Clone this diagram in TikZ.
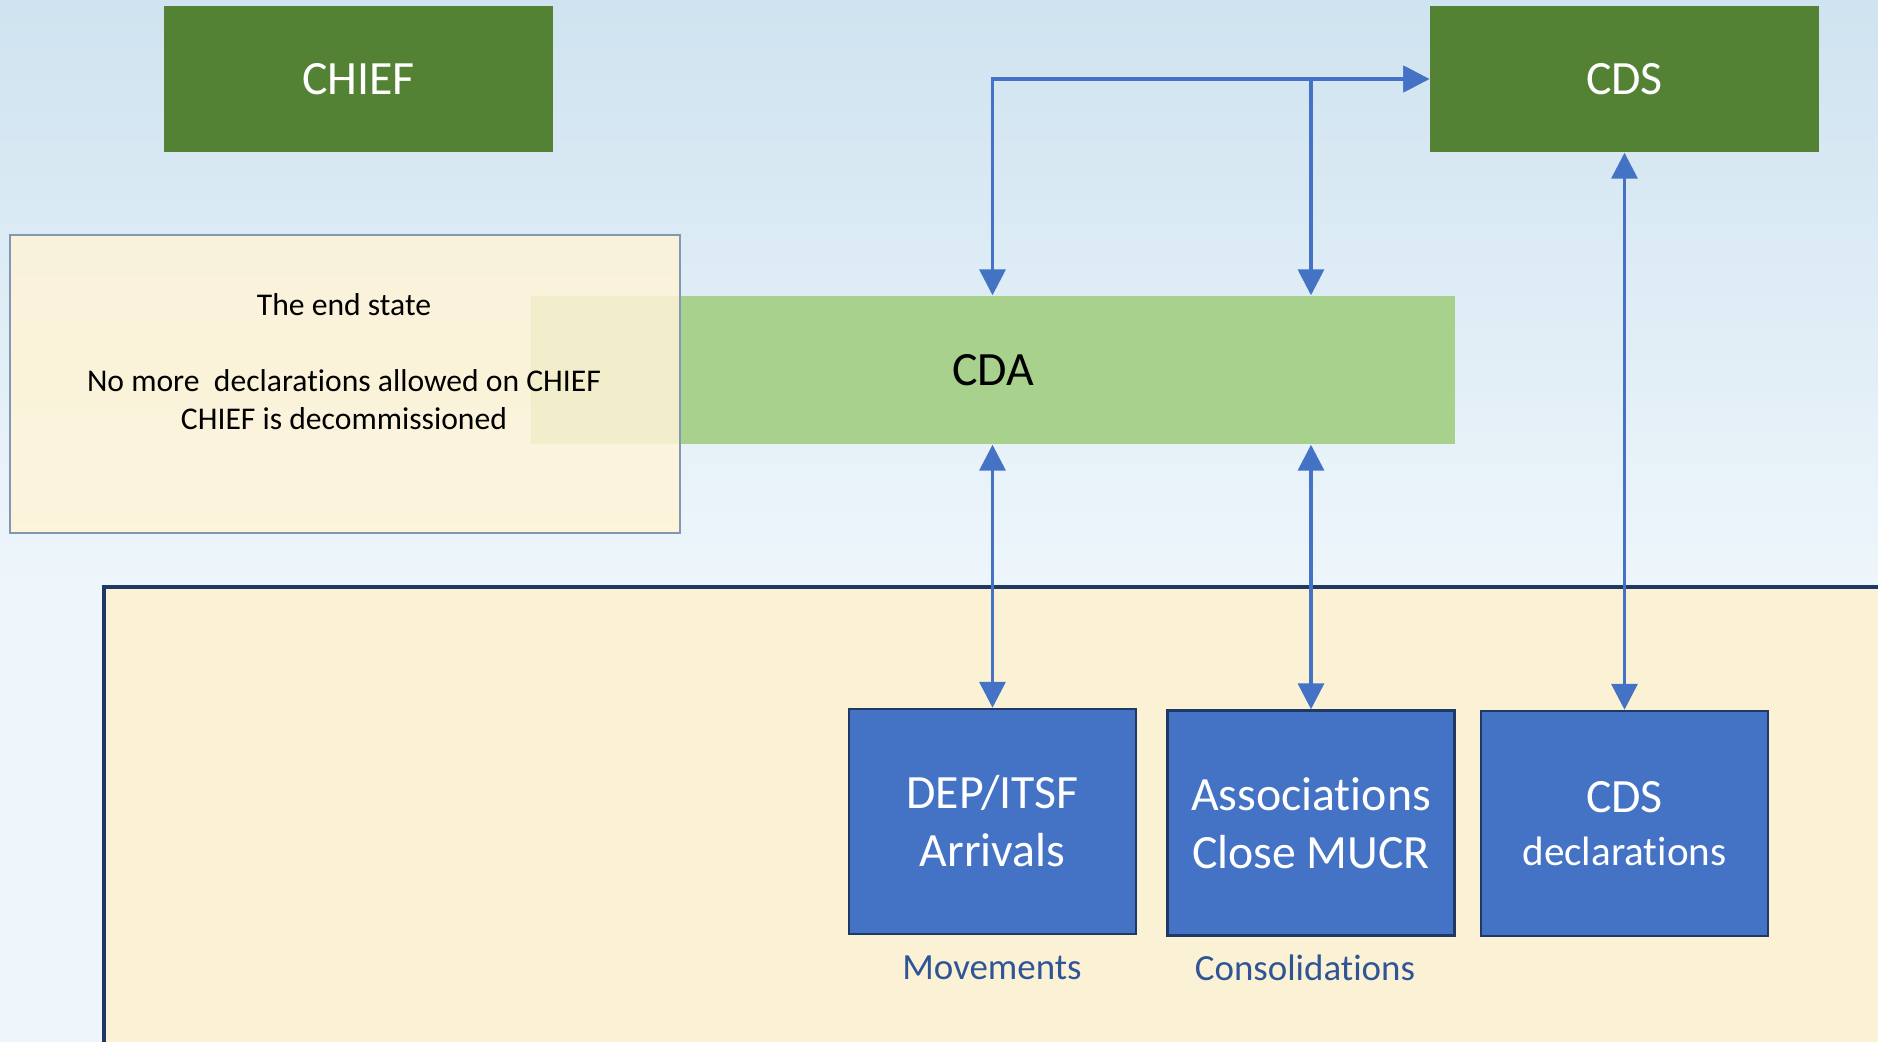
\documentclass[tikz,border=0pt]{standalone}
\usepackage{fontspec}
\setmainfont{Carlito}[Ligatures=NoCommon]
\usepackage{xcolor}
\usepackage{tikz}
\usetikzlibrary{arrows.meta}
\usetikzlibrary{positioning}
\definecolor{darkgreen}{HTML}{548235}
\definecolor{lightgreen}{HTML}{A9D18E}
\definecolor{boxblue}{HTML}{4472C4}
\definecolor{navy}{HTML}{1F3864}
\definecolor{panelcream}{HTML}{FBF2D6}
\definecolor{notecream}{HTML}{FFF4D6}
\definecolor{noteedge}{HTML}{8497B0}
\definecolor{labelblue}{HTML}{2F5597}
\definecolor{bgtop}{HTML}{CFE3F0}
\definecolor{bgbottom}{HTML}{EEF6FB}
\tikzstyle{sysnode}=[fill=darkgreen, text=white, minimum width=3.89cm, minimum height=1.46cm, inner sep=0pt, font=\fontsize{13.6}{16}\selectfont]
\tikzstyle{cdanode}=[fill=lightgreen, text=black, minimum width=9.24cm, minimum height=1.48cm, inner sep=0pt, font=\fontsize{13.6}{16}\selectfont]
\tikzstyle{notenode}=[draw=noteedge, line width=0.45pt, fill=notecream, fill opacity=0.85, minimum width=6.70cm, minimum height=2.98cm]
\tikzstyle{notetext}=[text=black, align=center, font=\fontsize{9}{10.8}\selectfont]
\tikzstyle{srcnode}=[draw=navy, line width=0.7pt, fill=boxblue, text=white, minimum width=2.87cm, minimum height=2.25cm, inner sep=0pt, align=center, font=\fontsize{13.6}{16.5}\selectfont]
\tikzstyle{flowlabel}=[text=labelblue, font=\fontsize{10.5}{12}\selectfont]
\tikzstyle{link}=[{Triangle[length=0.26cm, width=0.26cm]}-{Triangle[length=0.26cm, width=0.26cm]}, line width=1pt, color=boxblue]

\begin{document}
\begin{tikzpicture}
\clip (0,0) rectangle (18.78,-10.42);
% background
\shade[top color=bgtop, bottom color=bgbottom] (0,0) rectangle (18.78,-5.9);
\fill[bgbottom] (0,-5.9) rectangle (18.78,-10.42);
\draw[draw=navy, line width=1.1pt, fill=panelcream] (1.04,-5.87) rectangle (19.5,-11);

\node [sysnode] (chief) at (3.585,-0.79) {CHIEF};
\node [sysnode] (cds) at (16.245,-0.79) {CDS};
\node [cdanode] (cda) at (9.93,-3.70) {CDA};

\node [notenode] (endbox) at (3.45,-3.84) {};
\node [notetext] (endtext) at (3.44,-3.615) {The end state\\ \\No more\ \ declarations allowed on CHIEF\\CHIEF is decommissioned};

\node [srcnode] (dep) at (9.925,-8.215) {DEP/ITSF\\Arrivals};
\node [srcnode] (assoc) at (13.11,-8.23) {Associations\\Close MUCR};
\node [srcnode] (cdsdecl) at (16.245,-8.235) {CDS\\[-1.5pt]{\fontsize{11.7}{16.5}\selectfont declarations}};

\node [flowlabel] (movements) at (9.92,-9.68) {Movements};
\node [flowlabel] (consol) at (13.05,-9.68) {Consolidations};

\draw[link] (cda.north -| dep.north) |- (cds.west);
\draw[link] (cda.north -| assoc.north) |- (cds.west);
\draw[link] (cda.south -| dep.north) -- (dep.north);
\draw[link] (cda.south -| assoc.north) -- (assoc.north);
\draw[link] (cds.south) -- (cdsdecl.north);
\end{tikzpicture}
\end{document}
